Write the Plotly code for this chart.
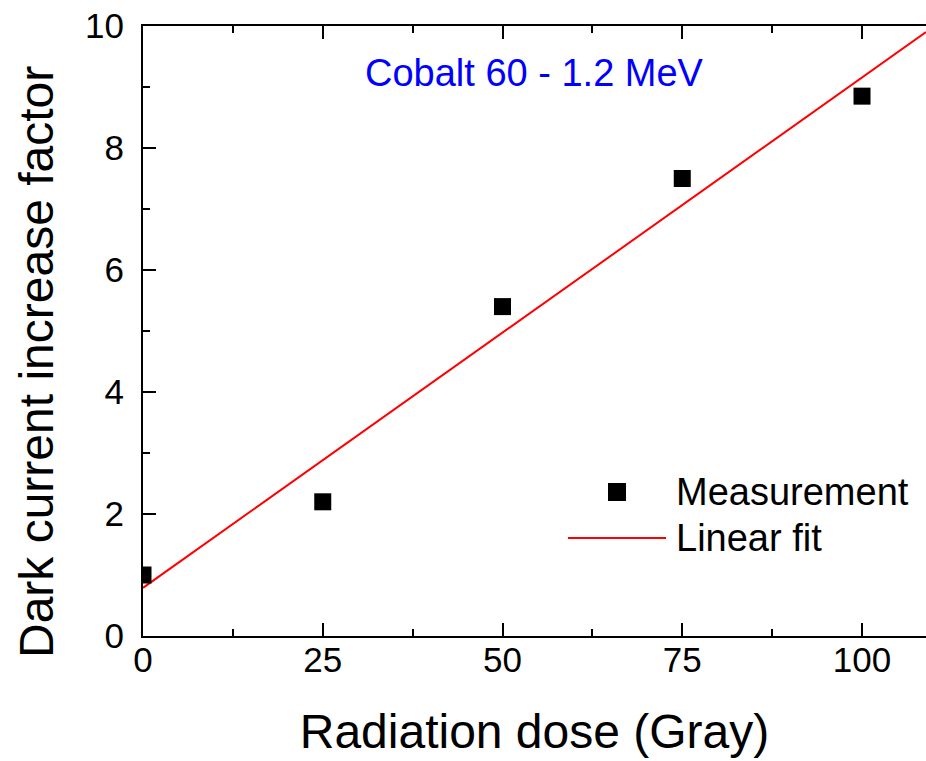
import plotly.graph_objects as go

# Data
dose = [0, 25, 50, 75, 100]
factor = [1.0, 2.2, 5.4, 7.5, 8.85]
fit_dose = [0, 108.9]
fit_factor = [0.79, 9.9]

x_ticks = [0, 25, 50, 75, 100]
y_ticks = [0, 2, 4, 6, 8, 10]

FONT = "Liberation Sans, Arial, sans-serif"

W, H = 926, 761
L, R, T, B = 143, 0, 26, 125
pw, ph = W - L - R, H - T - B

def px(x):
    return (x - L) / pw

def py(y):
    return (H - B - y) / ph

fig = go.Figure()
fig.add_trace(go.Scatter(
    x=fit_dose, y=fit_factor, mode="lines",
    line=dict(color="#ff0000", width=2), name="Linear fit", showlegend=False,
))
fig.add_trace(go.Scatter(
    x=dose, y=factor, mode="markers",
    marker=dict(symbol="square", size=17, color="black"),
    name="Measurement", showlegend=False, cliponaxis=True,
))

fig.update_layout(
    width=W, height=H,
    margin=dict(l=L, r=R, t=T, b=B),
    plot_bgcolor="white", paper_bgcolor="white",
    font=dict(family=FONT, color="black"),
    xaxis=dict(
        range=[0, 108.9], tickvals=x_ticks, ticktext=[str(v) for v in x_ticks],
        showline=True, linecolor="black", linewidth=2, mirror="ticks",
        ticks="inside", ticklen=13, tickwidth=2, tickcolor="black",
        minor=dict(ticks="inside", ticklen=7, tickwidth=2, tickcolor="black", dtick=12.5, tick0=0),
        showgrid=False, zeroline=False,
        tickfont=dict(size=35), ticklabelstandoff=-8,
        title=dict(text="Radiation dose (Gray)", font=dict(size=48), standoff=36),
    ),
    yaxis=dict(
        range=[0, 10], tickvals=y_ticks, ticktext=[str(v) for v in y_ticks],
        showline=True, linecolor="black", linewidth=2, mirror=False,
        ticks="inside", ticklen=13, tickwidth=2, tickcolor="black",
        minor=dict(ticks="inside", ticklen=7, tickwidth=2, tickcolor="black", dtick=1, tick0=0),
        showgrid=False, zeroline=False,
        tickfont=dict(size=35), ticklabelstandoff=10,
    ),
    annotations=[
        dict(text="Dark current increase factor", textangle=-90,
             xref="paper", yref="paper", x=px(36), y=py(362),
             xanchor="center", yanchor="middle", showarrow=False,
             font=dict(size=48, family=FONT, color="black")),
        dict(text="Cobalt 60 - 1.2 MeV", xref="x", yref="y", x=54.5, y=9.23,
             xanchor="center", yanchor="middle", showarrow=False,
             font=dict(size=38, family=FONT, color="#0000ff")),
        dict(text="Measurement", xref="paper", yref="paper", x=px(674), y=py(492),
             xanchor="left", yanchor="middle", showarrow=False,
             font=dict(size=38, family=FONT, color="black")),
        dict(text="Linear fit", xref="paper", yref="paper", x=px(674), y=py(538),
             xanchor="left", yanchor="middle", showarrow=False,
             font=dict(size=38, family=FONT, color="black")),
    ],
    shapes=[
        dict(type="rect", xref="paper", yref="paper",
             x0=px(608), x1=px(626), y0=py(501), y1=py(483),
             fillcolor="black", line=dict(width=0)),
        dict(type="line", xref="paper", yref="paper",
             x0=px(568), x1=px(666), y0=py(538), y1=py(538),
             line=dict(color="#ff0000", width=2)),
    ],
)

fig.write_html("out.html")
